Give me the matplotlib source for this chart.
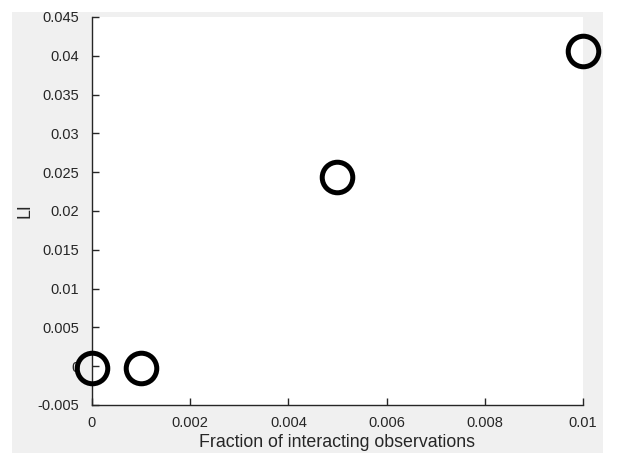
import matplotlib
matplotlib.use("Agg")
import matplotlib.pyplot as plt
from matplotlib.patches import Rectangle

# data
frac = [0.0, 0.001, 0.005, 0.01]
li = [-0.0002, -0.0002, 0.0244, 0.0406]

xticks = [0, 0.002, 0.004, 0.006, 0.008, 0.01]
xtick_labels = ["0", "0.002", "0.004", "0.006", "0.008", "0.01"]
yticks = [-0.005, 0, 0.005, 0.01, 0.015, 0.02, 0.025, 0.03, 0.035, 0.04, 0.045]
ytick_labels = ["-0.005", "0", "0.005", "0.01", "0.015", "0.02", "0.025",
                "0.03", "0.035", "0.04", "0.045"]

plt.rcParams['font.family'] = ['Liberation Sans', 'DejaVu Sans']

fig = plt.figure(figsize=(6.17, 4.63), dpi=100)
fig.patch.set_facecolor('white')
# MATLAB-style gray figure panel, drawn behind the axes
panel = Rectangle((0.0194, 0.0216), 0.958, 0.952,
                  transform=fig.transFigure, facecolor='#f0f0f0',
                  edgecolor='none', zorder=-10)
fig.add_artist(panel)

ax = fig.add_axes([0.1491, 0.1253, 0.7958, 0.838])
ax.set_facecolor('white')
ax.plot(frac, li, linestyle='none', marker='o', markersize=22,
        markerfacecolor='none', markeredgecolor='black', markeredgewidth=3.6,
        clip_on=False, zorder=3)

ax.set_xlim(0, 0.01)
ax.set_ylim(-0.005, 0.045)
ax.set_xticks(xticks)
ax.set_xticklabels(xtick_labels)
ax.set_yticks(yticks)
ax.set_yticklabels(ytick_labels)

for s in ['top', 'right']:
    ax.spines[s].set_visible(False)
for s in ['left', 'bottom']:
    ax.spines[s].set_color('#262626')
    ax.spines[s].set_linewidth(1.0)

ax.tick_params(direction='in', length=5, width=1.0, color='#262626',
               labelsize=10.5, labelcolor='#262626')
ax.tick_params(axis='y', pad=9)
ax.tick_params(axis='x', pad=8)
ax.set_xlabel("Fraction of interacting observations", fontsize=12.8,
              color='#262626', labelpad=3)
ax.set_ylabel("LI", fontsize=12.8, color='#262626', labelpad=3)

fig.savefig("out.png", dpi=100, facecolor=fig.get_facecolor())
